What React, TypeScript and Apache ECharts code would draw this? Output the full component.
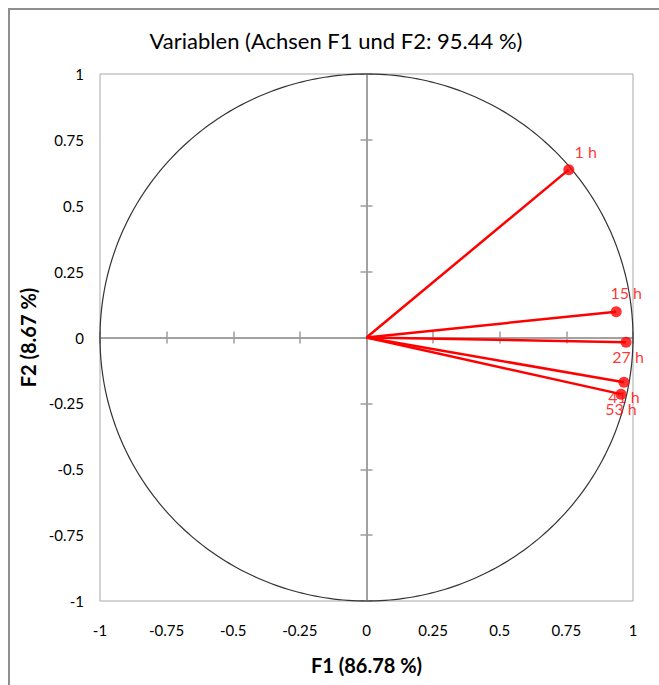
import React, { useEffect, useRef } from "react";
import * as echarts from "echarts";

const variables = ["1 h", "15 h", "27 h", "41 h", "53 h"];
const f1Values = [0.759, 0.937, 0.974, 0.966, 0.955];
const f2Values = [0.637, 0.098, -0.018, -0.17, -0.215];
const axisMin = -1;
const axisMax = 1;
const tickStep = 0.25;
const titleText = "Variablen (Achsen F1 und F2: 95.44 %)";
const xName = "F1 (86.78 %)";
const yName = "F2 (8.67 %)";

const labelPlacement = [
  { position: "top", distance: 5, offset: [17, 0] },
  { position: "top", distance: 6, offset: [10, 0] },
  { position: "bottom", distance: 1, offset: [2, 0] },
  { position: "bottom", distance: 1, offset: [0, 0] },
  { position: "bottom", distance: 1, offset: [0, 0] },
];

const FONT = "Lato, 'Noto Sans', sans-serif";
const RED = "#ff0000";
const AXIS_GRAY = "#9c9c9c";

export default function App() {
  const ref = useRef<HTMLDivElement>(null);
  useEffect(() => {
    if (!ref.current) return;
    const chart = echarts.init(ref.current, undefined, { renderer: "svg" });

    const baseAxis = {
      type: "value",
      min: axisMin,
      max: axisMax,
      interval: tickStep,
      splitLine: { show: false },
    };

    const zeroAxis = (inside: boolean) => ({
      ...baseAxis,
      axisLine: { show: true, onZero: true, lineStyle: { color: AXIS_GRAY, width: 1.5 } },
      axisTick: { show: true, inside, length: 6, lineStyle: { color: AXIS_GRAY, width: 1.5 } },
      axisLabel: { show: false },
    });

    const vectorSeries = variables.map((name, i) => ({
      type: "line",
      name,
      data: [
        [0, 0],
        [f1Values[i], f2Values[i]],
      ],
      showSymbol: false,
      symbol: "none",
      silent: true,
      lineStyle: { color: RED, width: 2.5 },
      z: 3,
    }));

    chart.setOption({
      animation: false,
      backgroundColor: "#ffffff",
      title: {
        text: titleText,
        left: 336,
        top: 29,
        padding: 0,
        textAlign: "center",
        textStyle: { fontFamily: FONT, fontSize: 22, fontWeight: "normal", color: "#000" },
      },
      graphic: [
        {
          type: "rect",
          shape: { x: 9, y: 9, width: 720, height: 720 },
          style: { stroke: "#8e8e8e", fill: "none", lineWidth: 2 },
          silent: true,
          z: 100,
        },
      ],
      grid: {
        left: 100,
        right: 26,
        top: 74,
        bottom: 84,
        show: true,
        borderColor: "#a8a8a8",
        borderWidth: 1,
        backgroundColor: "transparent",
      },
      xAxis: [
        {
          ...baseAxis,
          position: "bottom",
          axisLine: { show: false, onZero: false },
          axisTick: { show: false },
          axisLabel: { margin: 21, fontFamily: FONT, fontSize: 15, color: "#000" },
          name: xName,
          nameLocation: "middle",
          nameGap: 54,
          nameTextStyle: { fontFamily: FONT, fontSize: 20, fontWeight: "bold", color: "#000" },
        },
        zeroAxis(false),
        zeroAxis(true),
      ],
      yAxis: [
        {
          ...baseAxis,
          position: "left",
          axisLine: { show: false, onZero: false },
          axisTick: { show: false },
          axisLabel: { margin: 16, fontFamily: FONT, fontSize: 15, color: "#000" },
          name: yName,
          nameLocation: "middle",
          nameGap: 58,
          nameTextStyle: { fontFamily: FONT, fontSize: 20, fontWeight: "bold", color: "#000" },
        },
        zeroAxis(false),
        zeroAxis(true),
      ],
      series: [
        {
          type: "custom",
          silent: true,
          data: [[0, 0]],
          z: 2,
          renderItem: (_params: any, api: any) => {
            const pts: number[][] = [];
            for (let d = 0; d <= 360; d += 1) {
              const t = (d * Math.PI) / 180;
              pts.push(api.coord([Math.cos(t), Math.sin(t)]));
            }
            return {
              type: "polyline",
              shape: { points: pts },
              style: { stroke: "#333333", fill: null, lineWidth: 1.2 },
            };
          },
        },
        ...vectorSeries,
        {
          type: "scatter",
          symbol: "circle",
          symbolSize: 11,
          itemStyle: { color: RED },
          z: 4,
          data: variables.map((name, i) => ({
            name,
            value: [f1Values[i], f2Values[i]],
            label: {
              show: true,
              formatter: name,
              position: labelPlacement[i].position,
              distance: labelPlacement[i].distance,
              offset: labelPlacement[i].offset,
              color: RED,
              fontFamily: FONT,
              fontSize: 16,
            },
          })),
        },
      ],
    });
    return () => chart.dispose();
  }, []);

  return (
    <div
      ref={ref}
      style={{ position: "absolute", left: 0, top: 0, width: 659, height: 685 }}
    />
  );
}
